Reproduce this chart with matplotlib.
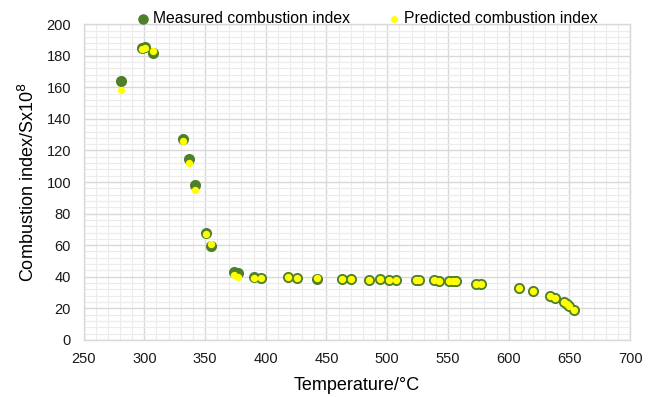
import matplotlib
matplotlib.use("Agg")
import matplotlib.pyplot as plt
from matplotlib.ticker import MultipleLocator

plt.rcParams['font.family'] = ['Liberation Sans', 'DejaVu Sans']

temperature = [281, 298, 300.5, 307, 331.5, 336.5, 341.5, 351, 355, 373.5, 377,
               390.5, 396, 418, 425.5, 442, 463, 470, 485, 494, 501.5, 507.5,
               523.5, 526.5, 538.5, 543, 550.5, 554, 557, 573, 577, 608.5, 620,
               634, 638, 645.5, 648, 650, 653.5]
measured = [164, 185, 185.5, 181.5, 127.5, 114.5, 98, 67.5, 59.5, 43, 42.3,
            39.5, 39.2, 39.5, 39.3, 38.6, 38.8, 38.7, 38.2, 38.3, 38, 38,
            37.7, 37.7, 37.8, 37.4, 37, 37, 37, 35.5, 35.5, 32.8, 30.8,
            28, 26.8, 24.2, 22.7, 21.5, 18.8]
predicted = [158, 184.5, 185, 183, 126, 112, 95, 67, 60.5, 41, 40,
             39, 39.2, 39.5, 39.3, 39, 38.8, 38.7, 38.2, 38.3, 38, 38,
             37.7, 37.7, 37.8, 37.4, 37, 37, 37, 35.5, 35.5, 32.8, 30.8,
             28, 26.8, 24.2, 22.7, 21.5, 18.8]

fig = plt.figure(figsize=(6.53, 3.97), dpi=100)
ax = fig.add_axes([0.128, 0.144, 0.837, 0.795])

ax.scatter(temperature, measured, s=64, color='#4f7f2b', zorder=3,
           label='Measured combustion index', linewidths=0)
ax.scatter(temperature, predicted, s=28, color='#ffff00', zorder=4,
           label='Predicted combustion index', linewidths=0)

ax.set_xlim(250, 700)
ax.set_ylim(0, 200)
ax.xaxis.set_major_locator(MultipleLocator(50))
ax.xaxis.set_minor_locator(MultipleLocator(10))
ax.yaxis.set_major_locator(MultipleLocator(20))
ax.yaxis.set_minor_locator(MultipleLocator(4))
ax.grid(which='major', color='#d9d9d9', linewidth=1.0, zorder=0)
ax.grid(which='minor', color='#ececec', linewidth=0.8, zorder=0)
ax.set_axisbelow(True)
ax.tick_params(which='both', length=0, labelsize=10.5, colors='#1a1a1a')
ax.tick_params(axis='x', pad=9)
ax.tick_params(axis='y', pad=9)
for sp in ax.spines.values():
    sp.set_color('#d9d9d9')
    sp.set_linewidth(1.0)

ax.set_xlabel('Temperature/°C', fontsize=13, labelpad=8)
ax.set_ylabel('Combustion index/Sx10$^8$', fontsize=13, labelpad=6)

ax.legend(loc='lower center', bbox_to_anchor=(0.519, 0.994), ncol=2,
          frameon=False, fontsize=11.3, handlelength=0.8, handletextpad=0.25,
          columnspacing=2.4, borderaxespad=0, borderpad=0, markerscale=0.95)

fig.savefig('out.png', dpi=100)
